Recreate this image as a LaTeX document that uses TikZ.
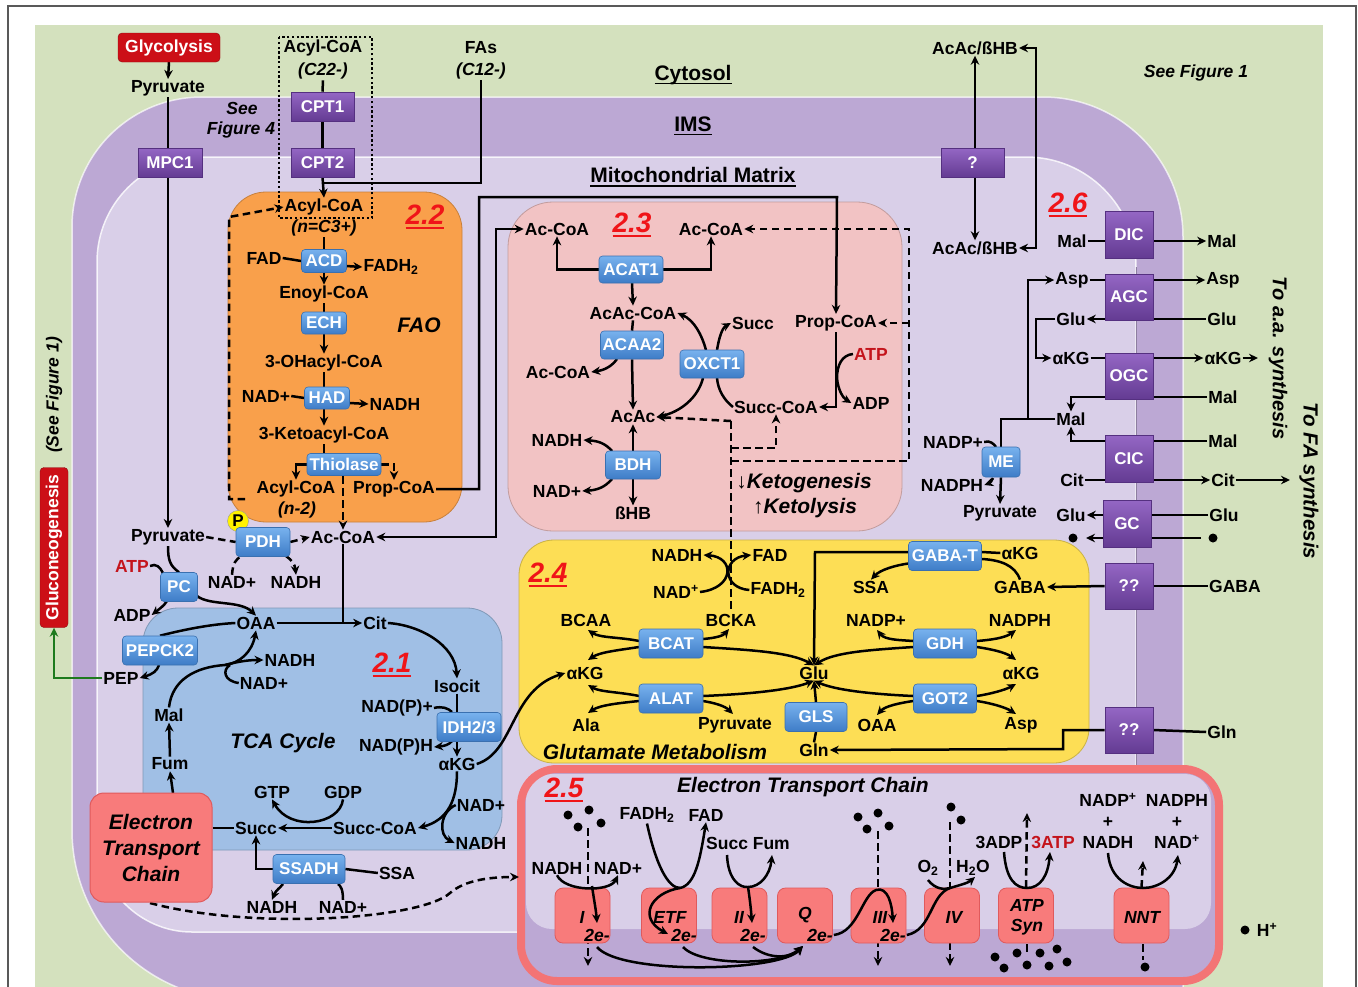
\documentclass[tikz,border=0pt]{standalone}
\usepackage{fontspec}
\setmainfont{Liberation Sans}
\usetikzlibrary{arrows.meta}
\pgfdeclarelayer{bg}
\pgfdeclarelayer{lines}
\pgfdeclarelayer{top}
\pgfsetlayers{bg,lines,main,top}
\definecolor{cyto}{HTML}{D4E1BE}
\definecolor{ims}{HTML}{BCA8D4}
\definecolor{mat}{HTML}{D9CFE8}
\definecolor{fao}{HTML}{F9A04B}
\definecolor{keto}{HTML}{F2C3C4}
\definecolor{tca}{HTML}{A0BFE5}
\definecolor{glu}{HTML}{FDDE55}
\definecolor{etcred}{HTML}{F37475}
\definecolor{etcbd}{HTML}{E05A5C}
\definecolor{cxf}{HTML}{F87B7B}
\definecolor{enzt}{HTML}{78B2EE}
\definecolor{enzd}{HTML}{3E7CC7}
\definecolor{enzb}{HTML}{3A70B0}
\definecolor{trat}{HTML}{9467C4}
\definecolor{trad}{HTML}{643B93}
\definecolor{trab}{HTML}{553080}
\definecolor{redtxt}{HTML}{F01418}
\definecolor{atpred}{HTML}{C4141C}
\definecolor{glyred}{HTML}{CC0F17}
\definecolor{gngreen}{HTML}{1E7A1E}
\newcommand{\fsz}[1]{\fontsize{#1}{#1}\selectfont}
\newcommand{\myul}[3]{\setbox0=\hbox{#3}\leavevmode\rlap{\rule[-#1]{\wd0}{#2}}\box0}
\begin{document}
\begin{tikzpicture}[x=1pt,y=-1pt,
 lbl/.style={inner sep=1pt,font=\bfseries\fsz{17.5}},
 itl/.style={inner sep=1pt,font=\bfseries\itshape\fsz{17.5}},
 big/.style={inner sep=1pt,font=\bfseries\itshape\fsz{21}},
 ttl/.style={inner sep=1pt,font=\bfseries\fsz{21}},
 secn/.style={inner sep=0pt,text=redtxt,font=\bfseries\itshape\fsz{28}},
 enz/.style={draw=enzb,line width=0.6pt,rounded corners=3.5pt,top color=enzt,bottom color=enzd,text=white,font=\bfseries\fsz{17},inner sep=0pt},
 tra/.style={draw=trab,line width=0.6pt,top color=trat,bottom color=trad,text=white,font=\bfseries\fsz{17},inner sep=0pt},
 cplx/.style={draw=etcbd,line width=0.8pt,fill=cxf,rounded corners=8pt,minimum width=55pt,minimum height=55pt,inner sep=0pt},
 wh/.style 2 args={minimum width=#1pt,minimum height=#2pt},
 ln/.style={line width=2.5pt},
 arr/.style={line width=2.5pt,-{Stealth[length=9pt,width=8.5pt]}},
 barr/.style={line width=2.5pt,{Stealth[length=9pt,width=8.5pt]}-{Stealth[length=9pt,width=8.5pt]}},
 dl/.style={line width=2.5pt,dash pattern=on 7.5pt off 4.5pt},
 darr/.style={line width=2.5pt,dash pattern=on 7.5pt off 4.5pt,-{Stealth[length=9pt,width=8.5pt]}},
]
\useasboundingbox (0,0) rectangle (1358,986);

% ================= BACKGROUND =================
\begin{pgfonlayer}{bg}
\fill[white] (0,0) rectangle (1358,986);
\draw[black!65,line width=1.2pt] (8,6) rectangle (1356,1010);
\fill[cyto] (35,25) rectangle (1323,1000);
% IMS
\fill[ims] (1183,1000) -- (1183,237) .. controls (1183,160) and (1120,97) .. (1043,97)
  -- (202,97) .. controls (130,97) and (72,155) .. (72,227)
  -- (72,830) .. controls (72,924) and (148,1000) .. (242,1000) -- cycle;
\draw[white,opacity=0.7,line width=1.5pt] (1183,1000) -- (1183,237) .. controls (1183,160) and (1120,97) .. (1043,97)
  -- (202,97) .. controls (130,97) and (72,155) .. (72,227)
  -- (72,830) .. controls (72,924) and (148,1000) .. (242,1000);
% Matrix
\fill[mat] (1136,932) -- (1136,267) .. controls (1136,206) and (1087,157) .. (1026,157)
  -- (202,157) .. controls (144,157) and (97,204) .. (97,262)
  -- (97,837) .. controls (97,889) and (140,932) .. (192,932) -- cycle;
\draw[white,opacity=0.8,line width=1.5pt] (1136,932) -- (1136,267) .. controls (1136,206) and (1087,157) .. (1026,157)
  -- (202,157) .. controls (144,157) and (97,204) .. (97,262)
  -- (97,837) .. controls (97,889) and (140,932) .. (192,932) -- cycle;
\draw[ims!75!black,line width=0.7pt] (1136,932) -- (1136,267);
% section regions
\filldraw[fill=fao,draw=fao!80!black,line width=0.8pt,rounded corners=38pt] (228,192) rectangle (462,522);
\filldraw[fill=keto,draw=keto!80!black,line width=0.8pt,rounded corners=45pt] (508,202) rectangle (902,531);
\filldraw[fill=tca,draw=tca!80!black,line width=0.8pt,rounded corners=35pt] (143,608) rectangle (502,850);
\filldraw[fill=glu,draw=glu!80!black,line width=0.8pt,rounded corners=35pt] (519,540) rectangle (1089,763);
% ETC region
\fill[ims,rounded corners=36pt] (521,769) rectangle (1219,981);
\fill[mat,rounded corners=26pt] (526,774) rectangle (1211,929);
\draw[etcred,line width=8pt,rounded corners=36pt] (521,769) rectangle (1219,981);
\end{pgfonlayer}

% ================= SPECIAL BOXES =================
\node[fill=glyred,draw=glyred!70!black,rounded corners=4pt,text=white,font=\bfseries\fsz{17.5},minimum width=102pt,minimum height=29pt,inner sep=0pt] (glyc) at (169,47.5) {Glycolysis};
\node[fill=glyred,draw=glyred!70!black,rounded corners=4pt,text=white,font=\bfseries\fsz{17.5},minimum width=160pt,minimum height=28pt,inner sep=0pt,rotate=90] (gng) at (54,547.5) {Gluconeogenesis};
\node[fill=cxf,draw=etcbd,line width=1pt,rounded corners=14pt,minimum width=122pt,minimum height=109pt,inner sep=0pt,align=center,font=\bfseries\itshape\fontsize{21}{26}\selectfont] (etcl) at (151,847.5) {Electron\\Transport\\Chain};
\node[circle,fill=yellow,draw=black!40,line width=0.4pt,inner sep=0pt,minimum size=21pt,font=\bfseries\fsz{17}] (pcirc) at (238,521) {P};

% ================= ENZYMES =================
\node[enz,wh={45}{23}] (acd) at (324,261) {ACD};
\node[enz,wh={45}{22}] (ech) at (324,323) {ECH};
\node[enz,wh={45}{22}] (had) at (327,398) {HAD};
\node[enz,wh={74}{22}] (thio) at (344,464.5) {Thiolase};
\node[enz,wh={54}{29}] (pdh) at (263,542) {PDH};
\node[enz,wh={37}{29}] (pc) at (179,587) {PC};
\node[enz,wh={75}{29}] (pepck) at (160,650.5) {PEPCK2};
\node[enz,wh={64}{29}] (idh) at (469,727) {IDH2/3};
\node[enz,wh={72}{29}] (ssadh) at (309,869) {SSADH};
\node[enz,wh={64}{27}] (acat) at (631,269.5) {ACAT1};
\node[enz,wh={63}{28}] (acaa) at (632,345) {ACAA2};
\node[enz,wh={64}{28}] (oxct) at (712,364) {OXCT1};
\node[enz,wh={55}{28}] (bdh) at (633,465) {BDH};
\node[enz,wh={64}{29}] (bcat) at (671,643.5) {BCAT};
\node[enz,wh={64}{29}] (alat) at (671,698.5) {ALAT};
\node[enz,wh={62}{29}] (gls) at (816,717) {GLS};
\node[enz,wh={63}{29}] (gdh) at (945,643.5) {GDH};
\node[enz,wh={63}{29}] (got) at (945,698.5) {GOT2};
\node[enz,wh={73}{29}] (gabat) at (945,556) {GABA-T};
\node[enz,wh={38}{30}] (me) at (1001,462) {ME};

% ================= TRANSPORTERS =================
\node[tra,wh={64}{29}] (mpc) at (170,162.5) {MPC1};
\node[tra,wh={63}{29}] (cpt1) at (322.5,106.5) {CPT1};
\node[tra,wh={63}{29}] (cpt2) at (322.5,162.5) {CPT2};
\node[tra,wh={63}{29}] (qbox) at (972.5,162.5) {?};
\node[tra,wh={48}{47}] (dic) at (1129,234.5) {DIC};
\node[tra,wh={48}{46}] (agc) at (1129,297) {AGC};
\node[tra,wh={48}{46}] (ogc) at (1129,376) {OGC};
\node[tra,wh={48}{47}] (cic) at (1129,458.5) {CIC};
\node[tra,wh={48}{47}] (gc) at (1127,523.5) {GC};
\node[tra,wh={48}{46}] (qq1) at (1129,586) {??};
\node[tra,wh={48}{46}] (qq2) at (1129,730) {??};

% ================= ETC COMPLEXES =================
\node[cplx] (c1) at (582.5,915.5) {};
\node[cplx] (cetf) at (669,915.5) {};
\node[cplx] (c2) at (739.5,915.5) {};
\node[cplx] (cq) at (805,915.5) {};
\node[cplx] (c3) at (878.5,915.5) {};
\node[cplx] (c4) at (952,915.5) {};
\node[cplx] (catp) at (1026,915.5) {};
\node[cplx] (cnnt) at (1141.5,915.5) {};

% ================= LABELS: top =================
\node[lbl] (pyr0) at (168,88) {Pyruvate};
\node[lbl] (acyl0) at (323,48) {Acyl-CoA};
\node[itl] (c22) at (323,71) {(C22-)};
\node[itl] (seea) at (242,108) {See};
\node[itl] (seeb) at (241,130) {Figure 4};
\node[lbl] (fas) at (481,48) {FAs};
\node[itl] (c12) at (481,71) {(C12-)};
\node[ttl] (cytol) at (693,75) {\myul{4pt}{1.8pt}{Cytosol}};
\node[ttl] (imsl) at (693,126) {\myul{4pt}{1.8pt}{IMS}};
\node[ttl] (mml) at (693,177) {\myul{4pt}{1.8pt}{Mitochondrial Matrix}};
\node[itl] (seef1) at (1196,73) {See Figure 1};
\node[lbl] (acac1) at (975,48) {AcAc/ßHB};
\node[lbl] (acac2) at (975,248) {AcAc/ßHB};
\node[itl,rotate=90] (seef1b) at (54,395) {(See Figure 1)};

% ================= FAO =================
\node[lbl] (acyl1) at (324,207) {Acyl-CoA};
\node[itl] (acyln) at (324,228) {(n=C3+)};
\node[secn] (s22) at (425,217) {\myul{5pt}{2.6pt}{2.2}};
\node[lbl] (fad1) at (264,258) {FAD};
\node[lbl] (fadh1) at (391,267) {FADH\textsubscript{2}};
\node[lbl] (enoyl) at (324,294) {Enoyl-CoA};
\node[big] (faol) at (419,325) {FAO};
\node[lbl] (ohacyl) at (324,363) {3-OHacyl-CoA};
\node[lbl] (nad1) at (266,396) {NAD+};
\node[lbl] (nadh1) at (395,404) {NADH};
\node[lbl] (keto3) at (324,435) {3-Ketoacyl-CoA};
\node[lbl] (acyl2) at (296,489) {Acyl-CoA};
\node[itl] (n2) at (297,510) {(n-2)};
\node[lbl] (prop1) at (394,489) {Prop-CoA};

% ================= PDH / PC =================
\node[lbl] (pyr1) at (168,537) {Pyruvate};
\node[lbl] (accoa1) at (343,537) {Ac-CoA};
\node[lbl] (nad2) at (232,582) {NAD+};
\node[lbl] (nadh2) at (296,582) {NADH};
\node[lbl,text=atpred] (atp1) at (132,566) {ATP};
\node[lbl] (adp1) at (132,615) {ADP};
\node[lbl] (oaa) at (256,623) {OAA};
\node[lbl] (cit) at (375,623) {Cit};

% ================= TCA =================
\node[lbl] (isocit) at (457,686) {Isocit};
\node[lbl] (nadp1) at (397,708) {NAD(P)+};
\node[lbl] (nadph1) at (396,747) {NAD(P)H};
\node[lbl] (akg1) at (457,764) {αKG};
\node[lbl] (nad3) at (481,805) {NAD+};
\node[lbl] (nadh3) at (481,843) {NADH};
\node[lbl] (succoa1) at (375,828) {Succ-CoA};
\node[lbl] (gtp) at (272,792) {GTP};
\node[lbl] (gdp) at (343,792) {GDP};
\node[lbl] (succ1) at (256,828) {Succ};
\node[lbl] (fum1) at (170,764) {Fum};
\node[lbl] (mal1) at (169,715) {Mal};
\node[lbl] (nadh4) at (290,660) {NADH};
\node[lbl] (nad4) at (264,683) {NAD+};
\node[lbl] (pep) at (121,678) {PEP};
\node[big] (tcal) at (283,743) {TCA Cycle};
\node[secn] (s21) at (392,665) {\myul{5pt}{2.6pt}{2.1}};
\node[lbl] (ssa1) at (397,873) {SSA};
\node[lbl] (nadh5) at (272,907) {NADH};
\node[lbl] (nad5) at (343,907) {NAD+};

% ================= KETONE (2.3) =================
\node[lbl] (accoa2) at (557,229) {Ac-CoA};
\node[secn] (s23) at (632,225) {\myul{5pt}{2.6pt}{2.3}};
\node[lbl] (accoa3) at (711,229) {Ac-CoA};
\node[lbl] (acaccoa) at (633,313) {AcAc-CoA};
\node[lbl] (succ2) at (753,323) {Succ};
\node[lbl] (prop2) at (836,323) {Prop-CoA};
\node[lbl,text=atpred] (atp2) at (871,354) {ATP};
\node[lbl] (accoa4) at (558,372) {Ac-CoA};
\node[lbl] (acac) at (633,417) {AcAc};
\node[lbl] (succoa2) at (776,407) {Succ-CoA};
\node[lbl] (adp2) at (871,403) {ADP};
\node[lbl] (nadh6) at (557,440) {NADH};
\node[lbl] (nad6) at (557,491) {NAD+};
\node[lbl] (bhb) at (633,513) {ßHB};
\node[big] (ketog) at (804,483) {↓Ketogenesis};
\node[big] (ketol) at (805,508) {↑Ketolysis};

% ================= 2.6 =================
\node[secn] (s26) at (1068,205) {\myul{5pt}{2.6pt}{2.6}};
\node[lbl] (mal2) at (1072,241) {Mal};
\node[lbl] (mal3) at (1222,241) {Mal};
\node[lbl] (asp1) at (1072,280) {Asp};
\node[lbl] (asp2) at (1223,280) {Asp};
\node[lbl] (glu1) at (1071,319) {Glu};
\node[lbl] (glu2) at (1222,319) {Glu};
\node[lbl] (akg2) at (1071,358) {αKG};
\node[lbl] (akg3) at (1223,358) {αKG};
\node[lbl] (mal4) at (1223,397) {Mal};
\node[lbl] (mal5) at (1071,419) {Mal};
\node[lbl] (mal6) at (1223,441) {Mal};
\node[lbl] (cit1) at (1072,480) {Cit};
\node[lbl] (cit2) at (1223,480) {Cit};
\node[lbl] (glu3) at (1071,515) {Glu};
\node[lbl] (glu4) at (1224,515) {Glu};
\node[lbl] (gaba2) at (1235,586) {GABA};
\node[lbl] (gln2) at (1222,732) {Gln};
\node[lbl] (nadp2) at (953,442) {NADP+};
\node[lbl] (nadph2) at (952,485) {NADPH};
\node[lbl] (pyr2) at (1000,513) {Pyruvate};
\node[inner sep=1pt,font=\bfseries\itshape\fsz{20},rotate=-90] (toaa) at (1278,358) {To a.a. synthesis};
\node[inner sep=1pt,font=\bfseries\itshape\fsz{20.5},rotate=-90] (tofa) at (1309,481) {To FA synthesis};

% ================= 2.4 =================
\node[secn] (s24) at (548,575) {\myul{5pt}{2.6pt}{2.4}};
\node[lbl] (nadh7) at (677,555) {NADH};
\node[lbl] (fad2) at (770,555) {FAD};
\node[lbl] (nad7) at (676,592) {NAD\textsuperscript{+}};
\node[lbl] (fadh2) at (778,590) {FADH\textsubscript{2}};
\node[lbl] (bcaa) at (586,620) {BCAA};
\node[lbl] (bcka) at (731,620) {BCKA};
\node[lbl] (akg4) at (585,673) {αKG};
\node[lbl] (glu5) at (814,673) {Glu};
\node[lbl] (akg5) at (1021,673) {αKG};
\node[lbl] (ala) at (586,725) {Ala};
\node[lbl] (pyr3) at (735,725) {Pyruvate};
\node[lbl] (oaa2) at (877,725) {OAA};
\node[lbl] (asp3) at (1021,725) {Asp};
\node[lbl] (gln1) at (814,750) {Gln};
\node[big] (glumet) at (655,752) {Glutamate Metabolism};
\node[lbl] (nadp3) at (876,620) {NADP+};
\node[lbl] (nadph3) at (1020,620) {NADPH};
\node[lbl] (akg6) at (1020,553) {αKG};
\node[lbl] (ssa2) at (871,587) {SSA};
\node[lbl] (gaba1) at (1020,587) {GABA};

% ================= 2.5 =================
\node[secn] (s25) at (564,790) {\myul{5pt}{2.6pt}{2.5}};
\node[big] (etct) at (803,787) {Electron Transport Chain};
\node[lbl] (nadh8) at (557,868) {NADH};
\node[lbl] (nad8) at (618,868) {NAD+};
\node[lbl] (fadh3) at (647,815) {FADH\textsubscript{2}};
\node[lbl] (fad3) at (706,815) {FAD};
\node[lbl] (succfum) at (748,843) {Succ Fum};
\node[lbl] (o2) at (928,868) {O\textsubscript{2}};
\node[lbl] (h2o) at (973,868) {H\textsubscript{2}O};
\node[lbl] (adp3) at (999,842) {3ADP};
\node[lbl,text=atpred] (atp3) at (1053,842) {3ATP};
\node[lbl] (nadpp) at (1108,800) {NADP\textsuperscript{+}};
\node[lbl] (nadph4) at (1177,800) {NADPH};
\node[lbl] (plus1) at (1108,822) {+};
\node[lbl] (plus2) at (1177,822) {+};
\node[lbl] (nadh9) at (1108,842) {NADH};
\node[lbl] (nadp9) at (1177,842) {NAD\textsuperscript{+}};
\node[lbl] (hplus) at (1267,930) {H\textsuperscript{+}};
\node[itl] (lI) at (582,917) {I};
\node[itl] (eI) at (597,935) {2e-};
\node[itl] (lETF) at (670,917) {ETF};
\node[itl] (eETF) at (684,935) {2e-};
\node[itl] (lII) at (739,917) {II};
\node[itl] (eII) at (753,935) {2e-};
\node[itl] (lQ) at (805,915) {Q};
\node[itl] (eQ) at (820,935) {2e-};
\node[itl] (lIII) at (880,917) {III};
\node[itl] (eIII) at (893,935) {2e-};
\node[itl] (lIV) at (954,917) {IV};
\node[itl] (lATP) at (1027,905) {ATP};
\node[itl] (lSyn) at (1027,927) {Syn};
\node[itl] (lNNT) at (1142,917) {NNT};

% dots (H+)
\foreach \p in {(568,815),(589,810),(578,827),(601,823),(858,817),(878,813),(867,829),(889,826),(951,807),(961,820),(995,957),(1004,968),(1017,953),(1027,965),(1040,953),(1049,966),(1057,949),(1067,962),(1145,967),(1073,538),(1213,538),(1245,930)}
  \fill[black] \p circle[radius=4.5pt];

% ================= CONNECTORS =================
\begin{pgfonlayer}{lines}
% top
\draw[arr] (glyc.south) -- (pyr0.north);
\draw[arr] (pyr0.south) -- (pyr1.north);
\draw[ln] (c22.south) -- (cpt1.north);
\draw[ln] (cpt1.south) -- (cpt2.north);
\draw[arr] (cpt2.south) -- (acyl1.north);
\draw[ln] (c12.south) -- (481,183) -- (323,183);
\draw[line width=2.4pt,dash pattern=on 2.4pt off 2.4pt] (279,37) rectangle (372,218);
\draw[barr] (acac1.south) -- (acac2.north);
\draw[barr] (acac1.east) -- (1036,48) -- (1036,248) -- (acac2.east);
% FAO
\draw[ln] (acyln.south) -- (acd.north);
\draw[ln] (fad1.east) -- (acd.west);
\draw[arr] (346,266) -- (fadh1.west);
\draw[arr] (acd.south) -- (enoyl.north);
\draw[ln] (enoyl.south) -- (ech.north);
\draw[arr] (ech.south) -- (ohacyl.north);
\draw[ln] (ohacyl.south) -- (324,387);
\draw[ln] (nad1.east) -- (had.west);
\draw[arr] (349.5,403) -- (nadh1.west);
\draw[arr] (324,409) -- (keto3.north);
\draw[ln] (keto3.south) -- (324,454);
\draw[arr] (thio.west) -| (acyl2.north);
\draw[darr] (thio.east) -| (prop1.north);
\draw[darr] (343,476) -- (accoa1.north);
\draw[darr] (245,499) -| (229,217) -- (acyl1.west);
\draw[arr] (prop1.east) -- (479,489) -- (479,197) -- (837,197) -- (prop2.north);
\draw[barr] (accoa1.east) -- (496,537) -- (496,229) -- (accoa2.west);
% PDH / PC
\draw[dl] (pyr1.east) -- (pdh.west);
\draw[darr] (pdh.east) -- (accoa1.west);
\draw[dl] (nad2.north) .. controls (233,562) and (236,560) .. (241,556);
\draw[darr] (286,556) .. controls (292,560) and (295,565) .. (nadh2.north);
\draw[ln] (accoa1.south) -- (343,623);
\draw[ln] (pyr1.south) .. controls (168,560) and (170,566) .. (pc.north);
\draw[ln] (atp1.east) .. controls (156,563) and (160,567) .. (163,573);
\draw[arr] (167,601) .. controls (164,606) and (158,610) .. (adp1.east);
\draw[arr] (197,596) .. controls (210,606) and (240,600) .. (oaa.north);
\draw[arr] (oaa.east) -- (cit.west);
% TCA
\draw[arr] (cit.east) .. controls (420,625) and (455,645) .. (isocit.north);
\draw[ln] (isocit.south) -- (457,712);
\draw[ln] (nadp1.east) .. controls (442,706) and (448,708) .. (452,712);
\draw[arr] (452,741) .. controls (449,745) and (444,746) .. (nadph1.east);
\draw[arr] (457,741) -- (akg1.north);
\draw[arr] (akg1.south) .. controls (457,800) and (448,820) .. (succoa1.east);
\draw[arr] (nad3.west) .. controls (440,812) and (438,835) .. (nadh3.west);
\draw[arr] (succoa1.west) -- (succ1.east);
\draw[arr] (gdp.south) .. controls (340,825) and (290,832) .. (gtp.south);
\draw[ln] (etcl.east |- succ1) -- (succ1.west);
\draw[arr] (173,793) -- (fum1.south);
\draw[arr] (fum1.north) -- (mal1.south);
\draw[arr] (mal1.north) .. controls (172,680) and (195,667) .. (225,665) .. controls (240,663) and (252,652) .. (oaa.south);
\draw[arr] (225,665) .. controls (240,661) and (250,660) .. (nadh4.west);
\draw[ln] (nad4.west) .. controls (224,681) and (222,670) .. (230,665);
\draw[ln] (oaa.west) .. controls (215,624) and (190,628) .. (pepck.north);
\draw[arr] (159,665) .. controls (157,671) and (153,674) .. (pep.east);
\draw[gngreen,line width=2.5pt,-{Stealth[length=9pt,width=8.5pt]}] (pep.west) -- (54,678) -- (gng.west);
\draw[arr] (ssadh.west) -- (256,869) -- (succ1.south);
\draw[ln] (ssadh.east) -- (ssa1.west);
\draw[arr] (283,884) .. controls (280,888) and (276,890) .. (nadh5.north);
\draw[ln] (nad5.north) .. controls (343,890) and (341,886) .. (338,884);
\draw[darr] (150,903) .. controls (250,930) and (420,920) .. (450,893) .. controls (465,880) and (490,877) .. (519,877);
\draw[arr] (akg1.east) .. controls (515,752) and (510,690) .. (akg4.west);
% 2.3
\draw[arr] (acat.west) -| (accoa2.south);
\draw[arr] (acat.east) -| (accoa3.south);
\draw[arr] (632,283) -- (acaccoa.north);
\draw[ln] (acaccoa.south) -- (acaa.north);
\draw[arr] (617,359) .. controls (612,366) and (605,370) .. (accoa4.east);
\draw[arr] (acaa.south) -- (acac.north);
\draw[arr] (706,350) .. controls (702,335) and (694,320) .. (acaccoa.east);
\draw[arr] (717,350) .. controls (719,338) and (722,328) .. (succ2.west);
\draw[arr] (703,378) .. controls (698,398) and (680,412) .. (acac.east);
\draw[ln] (succoa2.west) .. controls (724,400) and (718,390) .. (717,378);
\draw[arr] (prop2.south) -- (836,407) -- (succoa2.east);
\draw[arr] (atp2.west) .. controls (842,355) and (837,365) .. (837,378) .. controls (838,390) and (843,398) .. (adp2.west);
\draw[arr] (bdh.north) -- (acac.south);
\draw[arr] (612,451) .. controls (605,443) and (598,441) .. (nadh6.east);
\draw[arr] (612,479) .. controls (605,487) and (598,490) .. (nad6.east);
\draw[arr] (bdh.south) -- (bhb.north);
\draw[dl] (731,421) -- (731,609);
\draw[darr] (731,421) -- (acac.east);
\draw[darr] (731,448) -| (succoa2.south);
\draw[darr] (731,461) -| (909,229) -- (accoa3.east);
\draw[darr] (909,323) -- (prop2.east);
% 2.4
\draw[arr] (nad7.east) .. controls (735,588) and (735,557) .. (nadh7.east);
\draw[arr] (fadh2.west) .. controls (722,588) and (722,558) .. (fad2.west);
\draw[arr] (639,641) .. controls (620,637) and (600,638) .. (588,630);
\draw[arr] (639,647) .. controls (620,650) and (600,652) .. (588,660);
\draw[arr] (703,639) .. controls (715,638) and (723,636) .. (729,629);
\draw[arr] (703,647) .. controls (750,650) and (790,652) .. (glu5.north);
\draw[arr] (639,696) .. controls (620,692) and (600,692) .. (588,685);
\draw[arr] (639,701) .. controls (620,703) and (600,705) .. (588,713);
\draw[arr] (703,701) .. controls (715,703) and (725,706) .. (733,714);
\draw[arr] (703,696) .. controls (750,694) and (790,690) .. (glu5.south);
\draw[arr] (913,641) .. controls (900,640) and (885,640) .. (877,630);
\draw[arr] (913,647) .. controls (870,650) and (835,652) .. (glu5.north);
\draw[arr] (977,641) .. controls (990,640) and (1005,638) .. (1016,630);
\draw[arr] (977,647) .. controls (990,649) and (1005,652) .. (1016,660);
\draw[arr] (913,696) .. controls (870,694) and (835,690) .. (glu5.south);
\draw[arr] (913,701) .. controls (900,703) and (885,706) .. (877,715);
\draw[arr] (977,696) .. controls (990,694) and (1005,690) .. (1016,684);
\draw[arr] (977,701) .. controls (990,703) and (1005,707) .. (1016,714);
\draw[arr] (gls.north) -- (glu5.south);
\draw[ln] (gls.south) -- (gln1.north);
\draw[arr] (gabat.west |- 0,552) -- (815,552) -- (glu5.north);
\draw[arr] (912,563) .. controls (895,565) and (880,570) .. (ssa2.north);
\draw[ln] (982,552) -- (akg6.west);
\draw[ln] (982,559) .. controls (1000,560) and (1015,565) .. (gaba1.north);
\draw[arr] (qq1.west) -- (gaba1.east);
\draw[ln] (gaba2.west) -- (qq1.east);
\draw[arr] (qq2.west) -- (1063,730) -- (1063,749) -- (gln1.east);
\draw[ln] (gln2.west) -- (1153,730);
% 2.6
\draw[ln] (mal2.east) -- (1105,241);
\draw[arr] (1153,241) -- (mal3.west);
\draw[ln] (asp1.east) -- (1105,280);
\draw[arr] (1153,280) -- (asp2.west);
\draw[arr] (1105,319) -- (glu1.east);
\draw[ln] (glu2.west) -- (1153,319);
\draw[ln] (akg2.east) -- (1105,358);
\draw[arr] (1153,358) -- (akg3.west);
\draw[arr] (akg3.east) -- (1258,358);
\draw[ln] (mal4.west) -- (1153,397);
\draw[arr] (1105,397) -| (mal5.north);
\draw[ln] (mal6.west) -- (1153,441);
\draw[arr] (1105,441) -| (mal5.south);
\draw[ln] (cit1.east) -- (1105,480);
\draw[arr] (1153,480) -- (cit2.west);
\draw[arr] (cit2.east) -- (1290,480);
\draw[arr] (1103,515) -- (glu3.east);
\draw[ln] (glu4.west) -- (1151,515);
\draw[arr] (1103,538) -- (1086,538);
\draw[ln] (1201,538) -- (1151,538);
\draw[arr] (mal5.west -| 1028,0) -- (1028,280) -- (asp1.west);
\draw[ln] (mal5.west) -- (1001,419) -- (me.north);
\draw[arr] (glu1.west) -- (1036,319) -- (1036,358) -- (akg2.west);
\draw[ln] (nadp2.east) .. controls (990,440) and (994,444) .. (996,447);
\draw[arr] (993,478) .. controls (992,481) and (990,483) .. (nadph2.east);
\draw[arr] (me.south) -- (pyr2.north);
% ETC dashed (behind complexes)
\draw[darr] (588,828) -- (588,966);
\draw[darr] (878,831) -- (878,966);
\draw[darr] (950,822) -- (950,966);
\draw[darr] (catp.north) -- (1027,813);
\draw[dl] (1027,944) -- (1027,955);
\draw[darr] (cnnt.north) -- (1143,861);
\draw[dl] (1143,944) -- (1143,960);
\end{pgfonlayer}

\begin{pgfonlayer}{top}
\draw[arr] (nadh8.south) .. controls (565,892) and (610,892) .. (nad8.south);
\draw[arr] (592,886) .. controls (594,900) and (596,910) .. (597,923);
\draw[ln] (fadh3.south) .. controls (656,865) and (668,888) .. (680,888);
\draw[arr] (680,888) .. controls (695,885) and (700,860) .. (fad3.south);
\draw[arr] (680,888) .. controls (650,893) and (638,918) .. (668,934);
\draw[arr] (727,855) .. controls (728,880) and (740,888) .. (748,887) .. controls (760,887) and (770,875) .. (772,855);
\draw[arr] (748,887) .. controls (750,900) and (751,910) .. (752,923);
\draw[arr] (597,947) .. controls (620,975) and (780,972) .. (803,946);
\draw[arr] (683,947) .. controls (700,966) and (780,966) .. (803,946);
\draw[arr] (753,947) .. controls (770,960) and (790,958) .. (803,946);
\draw[arr] (eQ.east) .. controls (858,932) and (862,895) .. (876,890) .. controls (888,886) and (892,905) .. (893,923);
\draw[arr] (eIII.east) .. controls (932,930) and (930,895) .. (950,888) .. controls (960,885) and (968,883) .. (975,877);
\draw[ln] (928,880) .. controls (935,889) and (944,890) .. (950,888);
\draw[arr] (1004,852) .. controls (1006,880) and (1016,888) .. (1027,888) .. controls (1040,888) and (1048,876) .. (1050,852);
\draw[arr] (1108,853) .. controls (1110,880) and (1130,888) .. (1143,888) .. controls (1158,888) and (1175,878) .. (1178,855);
\end{pgfonlayer}
\end{tikzpicture}
\end{document}
